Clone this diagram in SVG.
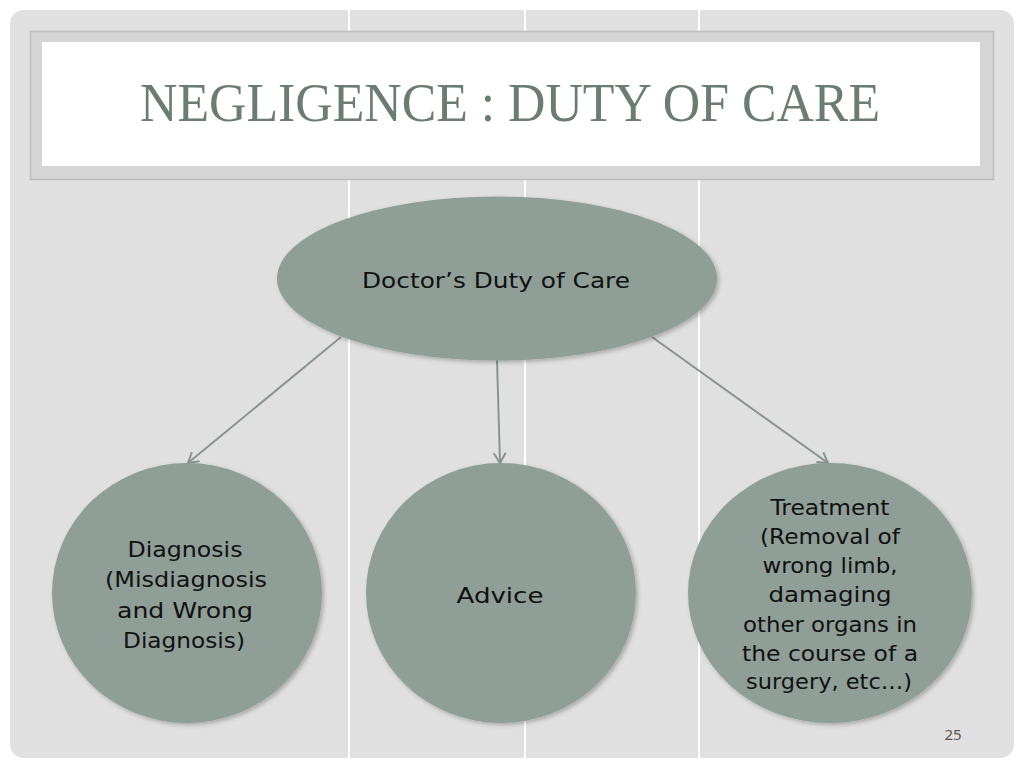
<svg xmlns="http://www.w3.org/2000/svg" width="1024" height="768" viewBox="0 0 1024 768">
<defs>
<style>
.node{fill:#8f9e97;filter:url(#sh)}
.lbl{font-family:"DejaVu Sans","Noto Sans",sans-serif;font-size:22px;fill:#111;text-anchor:middle}
.conn{stroke:#8a948f;stroke-width:2;fill:none;marker-end:url(#arr)}
</style>
<marker id="arr" markerWidth="14" markerHeight="14" refX="11" refY="7" orient="auto" markerUnits="userSpaceOnUse">
<path d="M1,1 L11,7 L1,13" fill="none" stroke="#8a948f" stroke-width="2"/>
</marker>
<filter id="sh" x="-10%" y="-10%" width="120%" height="120%">
<feDropShadow dx="2" dy="2" stdDeviation="2" flood-color="#000" flood-opacity="0.25"/>
</filter>
</defs>
<rect width="1024" height="768" fill="#ffffff"/>
<rect x="10" y="10" width="1004" height="748" rx="14" fill="#e0e0e0"/>
<g stroke="#ffffff" stroke-width="2">
<line x1="349" y1="10" x2="349" y2="758"/>
<line x1="525" y1="10" x2="525" y2="758"/>
<line x1="699" y1="10" x2="699" y2="758"/>
</g>
<g id="title">
<rect x="30.5" y="31.5" width="963" height="148" fill="#d5d5d5" stroke="#bdbdbd" stroke-width="1.5"/>
<rect x="42" y="42" width="938" height="124" fill="#ffffff"/>
<text x="510" y="121" font-family="'Liberation Serif',serif" font-size="54" fill="#6b7d72" text-anchor="middle" textLength="740" lengthAdjust="spacingAndGlyphs">NEGLIGENCE : DUTY OF CARE</text>
</g>
<g id="connectors">
<line class="conn" x1="341" y1="337" x2="188" y2="463"/>
<line class="conn" x1="497" y1="360" x2="500" y2="463"/>
<line class="conn" x1="652" y1="337" x2="828" y2="463"/>
</g>
<g id="root">
<ellipse class="node" cx="497" cy="278.5" rx="220" ry="82"/>
<text class="lbl" x="496" y="288" textLength="268" lengthAdjust="spacingAndGlyphs">Doctor’s Duty of Care</text>
</g>
<g id="diagnosis">
<ellipse class="node" cx="187" cy="593" rx="135" ry="130"/>
<text class="lbl"><tspan x="185" y="557" textLength="115" lengthAdjust="spacingAndGlyphs">Diagnosis</tspan></text>
<text class="lbl"><tspan x="186" y="587" textLength="162" lengthAdjust="spacingAndGlyphs">(Misdiagnosis</tspan></text>
<text class="lbl"><tspan x="185" y="618" textLength="136" lengthAdjust="spacingAndGlyphs">and Wrong</tspan></text>
<text class="lbl"><tspan x="184" y="648" textLength="122" lengthAdjust="spacingAndGlyphs">Diagnosis)</tspan></text>
</g>
<g id="advice">
<ellipse class="node" cx="501" cy="593" rx="135" ry="130"/>
<text class="lbl" x="500" y="603" textLength="87" lengthAdjust="spacingAndGlyphs">Advice</text>
</g>
<g id="treatment">
<ellipse class="node" cx="830" cy="593" rx="142" ry="130"/>
<text class="lbl" x="830" y="515" textLength="119" lengthAdjust="spacingAndGlyphs">Treatment</text>
<text class="lbl" x="830" y="544" textLength="140" lengthAdjust="spacingAndGlyphs">(Removal of</text>
<text class="lbl" x="830" y="573" textLength="135" lengthAdjust="spacingAndGlyphs">wrong limb,</text>
<text class="lbl" x="830" y="602" textLength="123" lengthAdjust="spacingAndGlyphs">damaging</text>
<text class="lbl" x="830" y="632" textLength="174" lengthAdjust="spacingAndGlyphs">other organs in</text>
<text class="lbl" x="830" y="661" textLength="176" lengthAdjust="spacingAndGlyphs">the course of a</text>
<text class="lbl" x="829" y="689" textLength="166" lengthAdjust="spacingAndGlyphs">surgery, etc…)</text>
</g>
<text x="953" y="740" font-family="'Noto Sans',sans-serif" font-size="15" fill="#555" text-anchor="middle">25</text>
</svg>
